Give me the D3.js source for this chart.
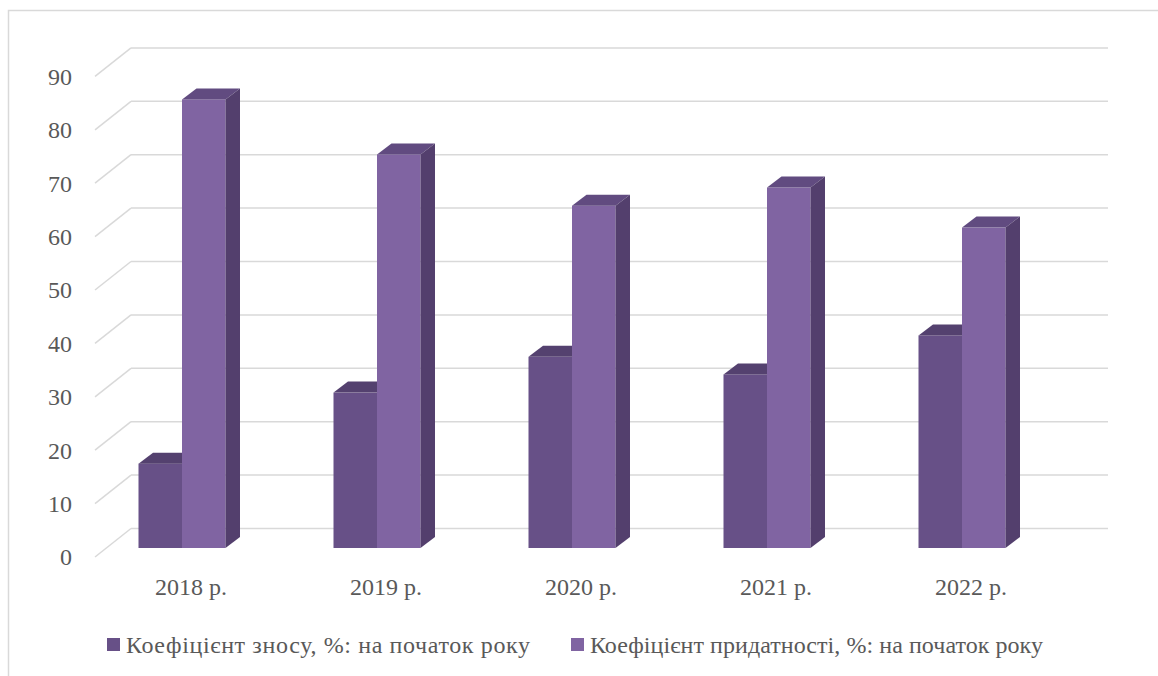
<!DOCTYPE html>
<html>
<head>
<meta charset="utf-8">
<script src="https://cdn.jsdelivr.net/npm/d3@7"></script>
<style>
  body { margin: 0; background: #fff; }
  text { font-family: "Liberation Serif", serif; fill: #595959; }
</style>
</head>
<body>
<div id="chart"></div>
<script>
// data
const years = ["2018 р.", "2019 р.", "2020 р.", "2021 р.", "2022 р."];
const wear = [15.8, 29.1, 35.8, 32.5, 39.8];       // Коефіцієнт зносу
const fitness = [84.0, 73.7, 64.1, 67.5, 60.0];    // Коефіцієнт придатності
const tickValues = [0, 10, 20, 30, 40, 50, 60, 70, 80, 90];
const seriesNames = ["Коефіцієнт зносу, %: на початок року", "Коефіцієнт придатності, %: на початок року"];

const W = 1158, H = 676;

const svg = d3.select("#chart").append("svg")
    .attr("width", W)
    .attr("height", H);

// chart area border (only top and left visible)
svg.append("path")
    .attr("d", "M8.5,676 L8.5,10.5 L1158,10.5")
    .attr("fill", "none")
    .attr("stroke", "#d9d9d9")
    .attr("stroke-width", 1.5);

// value scale on the front edge of the floor
const y = d3.scaleLinear().domain([0, 90]).range([557, 76.4]);

// depth of the wall and bars
const wallDx = 36, wallDy = -28.5;
const barDx = 14.5, barDy = -11;
const barShift = -9;           // bars stand in the middle of the depth
const frontX = 95, backRight = 1108;

// gridlines
const grid = svg.append("g").attr("class", "grid");
grid.selectAll(".diag")
    .data(tickValues)
    .enter()
    .append("line")
    .attr("x1", frontX)
    .attr("y1", d => y(d))
    .attr("x2", frontX + wallDx)
    .attr("y2", d => y(d) + wallDy)
    .attr("stroke", "#d9d9d9")
    .attr("stroke-width", 1.5);

grid.selectAll(".back")
    .data(tickValues)
    .enter()
    .append("line")
    .attr("x1", frontX + wallDx)
    .attr("y1", d => y(d) + wallDy)
    .attr("x2", backRight)
    .attr("y2", d => y(d) + wallDy)
    .attr("stroke", "#d9d9d9")
    .attr("stroke-width", 1.5);

// y labels
svg.append("g")
    .selectAll("text")
    .data(tickValues)
    .enter()
    .append("text")
    .attr("x", 72)
    .attr("y", d => y(d))
    .attr("dy", "0.35em")
    .attr("text-anchor", "end")
    .style("font-size", "24px")
    .text(d => d);

// category scale
const x0 = d3.scaleBand().domain(years).range([84.5, 1059.5]);
const groupW = 87;
const x1 = d3.scaleBand().domain([0, 1])
    .range([x0.bandwidth() / 2 - groupW / 2, x0.bandwidth() / 2 + groupW / 2]);

const colors = [
    { front: "#675087", top: "#54416f", side: "#4c3b66" },
    { front: "#8064a2", top: "#614b80", side: "#533f6d" }
];

function drawBar(g, xl, v, c) {
    const w = x1.bandwidth();
    const yb = y(0) + barShift;
    const yt = y(v) + barShift;
    g.append("rect")
        .attr("x", xl)
        .attr("y", yt)
        .attr("width", w)
        .attr("height", yb - yt)
        .attr("fill", c.front);
    g.append("path")
        .attr("d", `M${xl},${yt} L${xl + barDx},${yt + barDy} L${xl + w + barDx},${yt + barDy} L${xl + w},${yt} Z`)
        .attr("fill", c.top);
    g.append("path")
        .attr("d", `M${xl + w},${yt} L${xl + w + barDx},${yt + barDy} L${xl + w + barDx},${yb + barDy} L${xl + w},${yb} Z`)
        .attr("fill", c.side);
}

const bars = svg.append("g").attr("class", "bars");
years.forEach((yr, i) => {
    const g = bars.append("g");
    drawBar(g, x0(yr) + x1(0), wear[i], colors[0]);
    drawBar(g, x0(yr) + x1(1), fitness[i], colors[1]);
});

// category labels (sit a bit right of the bar fronts, on the floor middle)
svg.append("g")
    .selectAll("text")
    .data(years)
    .enter()
    .append("text")
    .attr("x", d => x0(d) + x0.bandwidth() / 2 + 9)
    .attr("y", 595)
    .attr("text-anchor", "middle")
    .style("font-size", "24px")
    .text(d => d);

// legend
const legendX = [107, 571];
const legendLen = [404, 453];
const legend = svg.append("g").attr("class", "legend");
seriesNames.forEach((name, i) => {
    legend.append("rect")
        .attr("x", legendX[i])
        .attr("y", 638)
        .attr("width", 13)
        .attr("height", 13)
        .attr("fill", colors[i].front);
    legend.append("text")
        .attr("x", legendX[i] + 19)
        .attr("y", 653)
        .attr("textLength", legendLen[i])
        .attr("lengthAdjust", "spacing")
        .style("font-size", "24px")
        .text(name);
});
</script>
</body>
</html>
